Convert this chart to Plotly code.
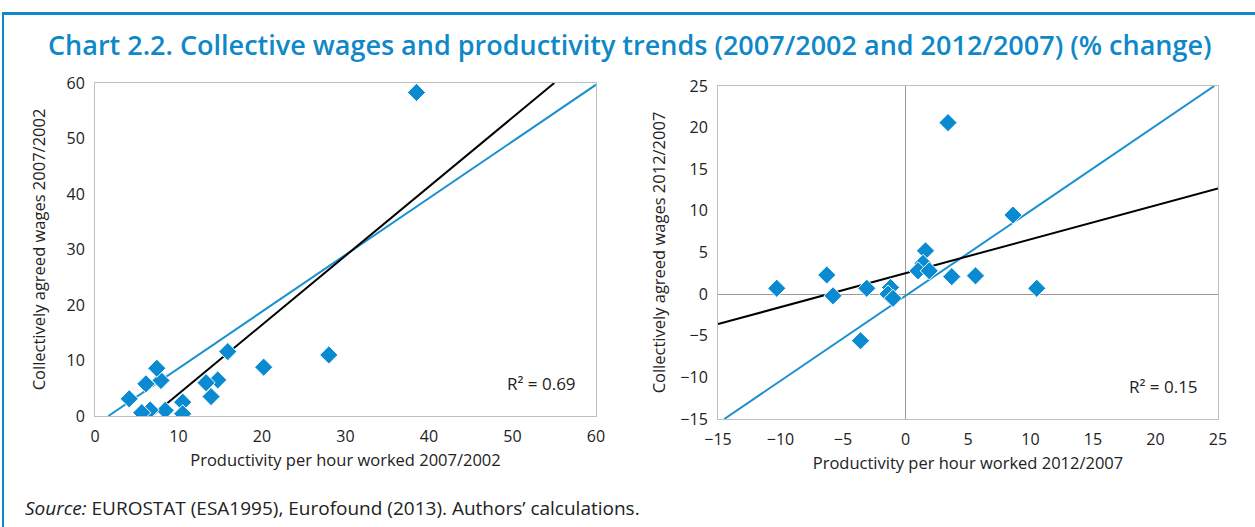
import plotly.graph_objects as go

# ---- data ----
left_x = [38.5, 28.0, 20.2, 15.9, 14.7, 13.3, 13.9, 10.5, 10.5, 8.4, 7.9, 7.4, 6.1, 6.6, 5.6, 4.1]
left_y = [58.3, 11.0, 8.8, 11.6, 6.5, 6.0, 3.5, 2.5, 0.4, 1.0, 6.4, 8.6, 5.8, 1.1, 0.6, 3.1]

right_x = [3.4, 8.6, 10.5, 5.6, 3.7, 1.6, 1.4, 1.0, 1.9, -10.3, -6.3, -5.8, -3.1, -3.6, -1.2, -1.4, -1.0]
right_y = [20.6, 9.5, 0.7, 2.2, 2.1, 5.2, 3.7, 2.8, 2.8, 0.7, 2.3, -0.2, 0.7, -5.6, 0.8, 0.0, -0.5]

# trend / reference lines (endpoints)
left_fit_x = [6.8, 55.0]
left_fit_y = [0.0, 60.0]
left_ref_x = [1.6, 60.0]
left_ref_y = [0.0, 59.7]

right_fit_x = [-15.0, 25.0]
right_fit_y = [-3.6, 12.7]
right_ref_x = [-14.5, 24.7]
right_ref_y = [-15.0, 25.0]

left_ticks = [0, 10, 20, 30, 40, 50, 60]
right_ticks = [-15, -10, -5, 0, 5, 10, 15, 20, 25]

title = "Chart 2.2. Collective wages and productivity trends (2007/2002 and 2012/2007) (% change)"
source = "<i>Source:</i> EUROSTAT (ESA1995), Eurofound (2013). Authors’ calculations."

BLUE = "#0a8ad1"
LINEBLUE = "#1a90d0"
FRAME = "#0e88c8"
FONT = "Open Sans"
W, H = 1255, 527

fig = go.Figure()

marker = dict(symbol="diamond", size=14, color=BLUE, line=dict(color="white", width=1))

fig.add_trace(go.Scatter(x=left_ref_x, y=left_ref_y, mode="lines",
                         line=dict(color=LINEBLUE, width=2), xaxis="x", yaxis="y", hoverinfo="skip"))
fig.add_trace(go.Scatter(x=left_fit_x, y=left_fit_y, mode="lines",
                         line=dict(color="black", width=2), xaxis="x", yaxis="y", hoverinfo="skip"))
fig.add_trace(go.Scatter(x=left_x, y=left_y, mode="markers", marker=marker, xaxis="x", yaxis="y"))

fig.add_trace(go.Scatter(x=right_ref_x, y=right_ref_y, mode="lines",
                         line=dict(color=LINEBLUE, width=2), xaxis="x2", yaxis="y2", hoverinfo="skip"))
fig.add_trace(go.Scatter(x=right_fit_x, y=right_fit_y, mode="lines",
                         line=dict(color="black", width=2), xaxis="x2", yaxis="y2", hoverinfo="skip"))
fig.add_trace(go.Scatter(x=right_x, y=right_y, mode="markers", marker=marker, xaxis="x2", yaxis="y2"))

axis_common = dict(showgrid=False, showline=True, linecolor="#bfbfbf", linewidth=1, mirror=True,
                   ticks="outside", ticklen=6, tickcolor="rgba(0,0,0,0)", automargin=False,
                   tickfont=dict(family=FONT, size=16, color="#222"),
                   title_font=dict(family=FONT, size=16.5, color="#222"))

fig.update_layout(
    width=W, height=H, autosize=False,
    margin=dict(l=0, r=0, t=0, b=0, pad=0, autoexpand=False),
    paper_bgcolor="white", plot_bgcolor="white",
    showlegend=False,
    xaxis=dict(domain=[95 / W, 596 / W], range=[0, 60], tickvals=left_ticks, zeroline=False,
               anchor="y", title=dict(text="Productivity per hour worked 2007/2002", standoff=8),
               **axis_common),
    yaxis=dict(domain=[(H - 416) / H, (H - 83) / H], range=[0, 60], tickvals=left_ticks, zeroline=False,
               anchor="x", title=dict(text="Collectively agreed wages 2007/2002", standoff=16),
               **axis_common),
    xaxis2=dict(domain=[718 / W, 1218 / W], range=[-15, 25], tickvals=right_ticks,
                zeroline=True, zerolinecolor="#9a9a9a", zerolinewidth=1,
                anchor="y2", title=dict(text="Productivity per hour worked 2012/2007", standoff=8),
                **axis_common),
    yaxis2=dict(domain=[(H - 419) / H, (H - 86) / H], range=[-15, 25], tickvals=right_ticks,
                zeroline=True, zerolinecolor="#9a9a9a", zerolinewidth=1,
                anchor="x2", title=dict(text="Collectively agreed wages 2012/2007", standoff=10),
                **axis_common),
)

fig.add_annotation(text=title, xref="paper", yref="paper", x=46 / W, y=1 - 44 / H,
                   xanchor="left", yanchor="middle", showarrow=False,
                   font=dict(family=FONT, size=27, color=FRAME, weight=600))
fig.add_annotation(text=source, xref="paper", yref="paper", x=23 / W, y=1 - 508 / H,
                   xanchor="left", yanchor="middle", showarrow=False,
                   font=dict(family=FONT, size=19, color="#222"))
fig.add_annotation(text="R² = 0.69", xref="paper", yref="paper", x=541 / W, y=1 - 383 / H,
                   xanchor="center", yanchor="middle", showarrow=False,
                   font=dict(family=FONT, size=17, color="#222"))
fig.add_annotation(text="R² = 0.15", xref="paper", yref="paper", x=1163 / W, y=1 - 386 / H,
                   xanchor="center", yanchor="middle", showarrow=False,
                   font=dict(family=FONT, size=17, color="#222"))

# outer frame (top bar and left edge)
fig.add_shape(type="rect", xref="paper", yref="paper", x0=2 / W, x1=1, y0=1 - 15 / H, y1=1 - 12 / H,
              fillcolor=FRAME, line=dict(width=0), layer="above")
fig.add_shape(type="rect", xref="paper", yref="paper", x0=2 / W, x1=4 / W, y0=0, y1=1 - 12 / H,
              fillcolor=FRAME, line=dict(width=0), layer="above")

fig.write_html("out.html", config={"displayModeBar": False},
               post_script="document.body.style.margin='0';document.body.style.padding='0';"
                           "document.documentElement.style.overflow='hidden';")
